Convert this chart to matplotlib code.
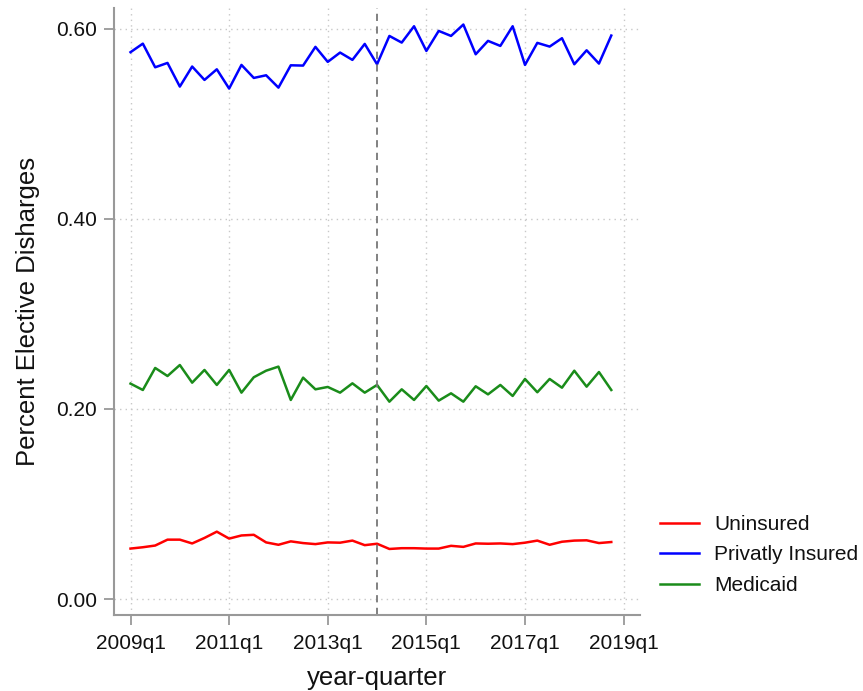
import matplotlib.pyplot as plt
import numpy as np

plt.rcParams['font.family'] = ['Liberation Sans', 'DejaVu Sans']

# quarters 2009q1 .. 2018q4, index 0 = 2009q1
quarters = np.arange(40)

uninsured = [0.0531, 0.0545, 0.0563, 0.0625, 0.0625, 0.0585, 0.0643, 0.0709, 0.0636, 0.0669,
             0.0676, 0.0596, 0.0571, 0.0607, 0.0589, 0.0578, 0.0596, 0.0593, 0.0615, 0.0567,
             0.0582, 0.0527, 0.0535, 0.0535, 0.0531, 0.0531, 0.0560, 0.0549, 0.0585, 0.0582,
             0.0585, 0.0578, 0.0593, 0.0615, 0.0571, 0.0603, 0.0615, 0.0618, 0.0589, 0.0600]

private = [0.5755, 0.5845, 0.5596, 0.5642, 0.5393, 0.5604, 0.5463, 0.5575, 0.5372, 0.5621,
           0.5484, 0.5512, 0.5382, 0.5617, 0.5614, 0.5811, 0.5653, 0.5751, 0.5674, 0.5842,
           0.5628, 0.5926, 0.5856, 0.6028, 0.5768, 0.5979, 0.5926, 0.6046, 0.5733, 0.5874,
           0.5821, 0.6028, 0.5621, 0.5853, 0.5814, 0.5902, 0.5628, 0.5775, 0.5635, 0.5930]

medicaid = [0.2267, 0.2200, 0.2432, 0.2347, 0.2463, 0.2277, 0.2411, 0.2253, 0.2411, 0.2172,
            0.2334, 0.2403, 0.2446, 0.2095, 0.2330, 0.2207, 0.2232, 0.2172, 0.2270, 0.2172,
            0.2253, 0.2077, 0.2207, 0.2095, 0.2242, 0.2088, 0.2165, 0.2077, 0.2239, 0.2154,
            0.2253, 0.2137, 0.2316, 0.2176, 0.2316, 0.2224, 0.2403, 0.2235, 0.2389, 0.2200]

xticks = [0, 8, 16, 24, 32, 40]
xticklabels = ['2009q1', '2011q1', '2013q1', '2015q1', '2017q1', '2019q1']
yticks = [0.0, 0.2, 0.4, 0.6]
event_q = 20  # 2014q1

fig = plt.figure(figsize=(8.63, 6.91), dpi=100)
ax = fig.add_axes([114 / 863, 1 - 615 / 691, (640 - 114) / 863, (615 - 8) / 691])

ax.plot(quarters, uninsured, color='#ff0000', lw=1.8, label='Uninsured')
ax.plot(quarters, private, color='#0000ff', lw=1.8, label='Privatly Insured')
ax.plot(quarters, medicaid, color='#1a8c1a', lw=1.8, label='Medicaid')
ax.axvline(event_q, color='#777777', lw=1.3, ls=(0, (4, 3)))

ax.set_xlim(-1.34, 41.33)
ax.set_ylim(-0.0168, 0.622)
ax.set_xticks(xticks)
ax.set_xticklabels(xticklabels)
ax.set_yticks(yticks)
ax.set_yticklabels([f'{v:.2f}' for v in yticks])
ax.grid(True, color='#c8c8c8', ls=(0, (1, 3)), lw=1)

for s in ['top', 'right']:
    ax.spines[s].set_visible(False)
for s in ['left', 'bottom']:
    ax.spines[s].set_color('#999999')
    ax.spines[s].set_linewidth(1.5)
ax.tick_params(colors='#999999', length=7, width=1.3, labelcolor='#111111', labelsize=15)
ax.tick_params(axis='x', pad=7)
ax.tick_params(axis='y', pad=5)

ax.set_xlabel('year-quarter', fontsize=18.5, color='#111111', labelpad=9)
ax.set_ylabel('Percent Elective Disharges', fontsize=18.5, color='#111111', labelpad=12)

fig.legend(loc='center left', bbox_to_anchor=(660 / 863, 1 - 555 / 691), frameon=False,
           fontsize=15, handlelength=1.85, labelspacing=0.55, handletextpad=0.75,
           borderpad=0, borderaxespad=0, labelcolor='#111111')

fig.savefig('out.png', dpi=100)
